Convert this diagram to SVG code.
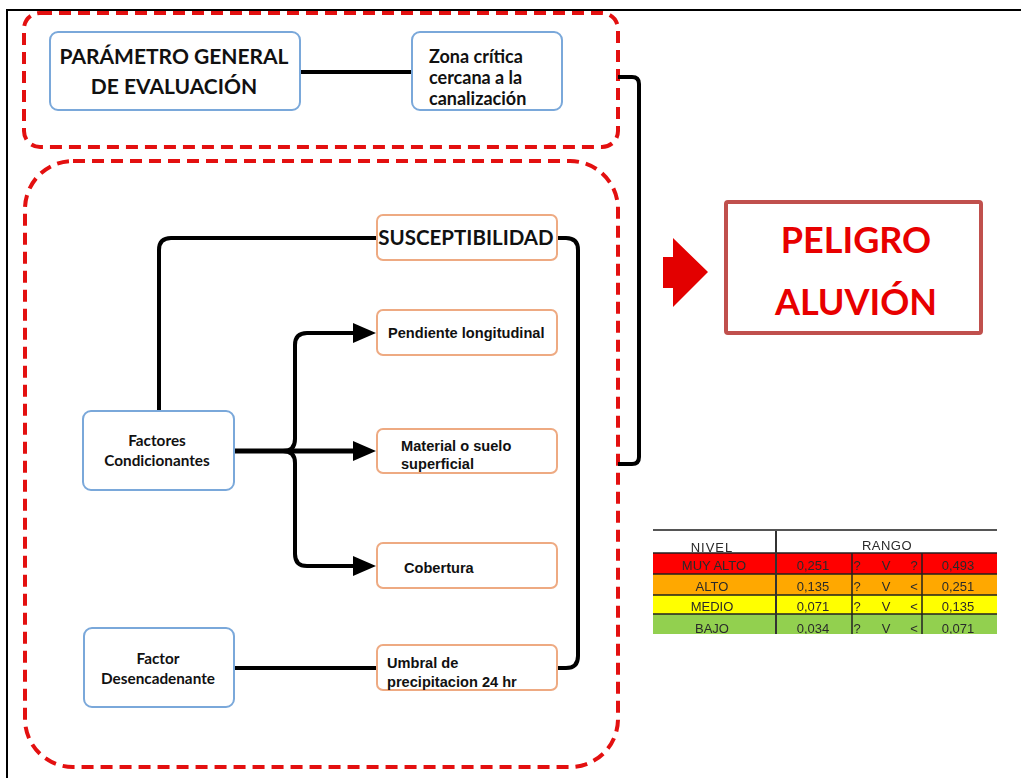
<svg xmlns="http://www.w3.org/2000/svg" width="1021" height="778" viewBox="0 0 1021 778">
<style>
.frame{fill:none;stroke:#000;stroke-width:2}
.dash{fill:none;stroke:#e31010;stroke-width:4;stroke-dasharray:12 7}
.blue{fill:#fff;stroke:#7aa8da;stroke-width:2}
.orng{fill:#fff;stroke:#eeaa82;stroke-width:2}
.conn{fill:none;stroke:#000;stroke-width:4;stroke-linejoin:round}
.thick{fill:none;stroke:#000;stroke-width:5}
.cal{font-family:Lato,"Liberation Sans",sans-serif;font-weight:bold;fill:#111}
.ari{font-family:"Liberation Sans",Arial,sans-serif;font-weight:bold;fill:#111;font-size:14.6px}
.tb{font-family:"Liberation Sans",Arial,sans-serif;font-size:13px;fill:#2a2a2a;text-anchor:middle}
.rl{stroke:#222;stroke-width:1.5}
</style>
<defs>
<filter id="soft" x="-5%" y="-5%" width="110%" height="110%"><feGaussianBlur stdDeviation="0.5"/></filter>
<clipPath id="tclip"><rect x="650" y="520" width="350" height="114"/></clipPath>
</defs>

<!-- outer frame -->
<path class="frame" d="M7 778 L7 10 L1021 10"/>

<!-- dashed group boxes -->
<rect class="dash" x="24" y="13" width="594" height="134" rx="16"/>
<rect class="dash" x="25" y="161" width="593" height="606" rx="48"/>

<g id="connectors">
<path class="conn" d="M300 72 L412 72"/>
<path class="conn" stroke-width="3" d="M618 77 L632 77 Q639 77 639 84 L639 457 Q639 464 632 464 L618 464"/>
<path class="conn" d="M159 411 L159 250 Q159 238 171 238 L377 238"/>
<path class="conn" d="M557 238 L566 238 Q578 238 578 250 L578 656 Q578 668 566 668 L557 668"/>
<path class="conn" d="M234 668 L377 668"/>
<path class="thick" d="M234 451 L356 451"/>
<path class="conn" d="M283 451 Q295 451 295 439 L295 345 Q295 333 307 333 L356 333"/>
<path class="conn" d="M283 451 Q295 451 295 463 L295 554 Q295 566 307 566 L356 566"/>
<polygon points="353,323 376,333 353,343" fill="#000"/>
<polygon points="353,441 376,451 353,461" fill="#000"/>
<polygon points="353,556 376,566 353,576" fill="#000"/>
<polygon points="663,257 673,257 673,238 708,272 673,307 673,288 663,288" fill="#e30000"/>
</g>

<g id="parametro">
<rect class="blue" x="50" y="32" width="250" height="78" rx="8"/>
<text class="cal" font-size="21" text-anchor="middle" x="174" y="64">PARÁMETRO GENERAL</text>
<text class="cal" font-size="21" text-anchor="middle" x="174" y="94">DE EVALUACIÓN</text>
</g>

<g id="zona">
<rect class="blue" x="412" y="32" width="150" height="78" rx="8"/>
<text class="cal" font-size="18" x="429" y="63">Zona crítica</text>
<text class="cal" font-size="18" x="429" y="84">cercana a la</text>
<text class="cal" font-size="18" x="429" y="105">canalización</text>
</g>

<g id="peligro">
<rect x="726" y="202" width="255" height="131" fill="#fff" stroke="#c0504d" stroke-width="4" rx="2"/>
<text class="cal" font-size="36" style="fill:#e80000" text-anchor="middle" x="856" y="253">PELIGRO</text>
<text class="cal" font-size="36" style="fill:#e80000" text-anchor="middle" x="856" y="315">ALUVIÓN</text>
</g>

<g id="susceptibilidad">
<rect class="orng" x="377" y="215" width="180" height="45" rx="6"/>
<text class="cal" font-size="20.5" text-anchor="middle" x="466" y="245">SUSCEPTIBILIDAD</text>
</g>

<g id="pendiente">
<rect class="orng" x="377" y="310" width="180" height="45" rx="6"/>
<text class="ari" x="388" y="338">Pendiente longitudinal</text>
</g>

<g id="material">
<rect class="orng" x="377" y="429" width="180" height="44" rx="6"/>
<text class="ari" x="401" y="451">Material o suelo</text>
<text class="ari" x="401" y="469">superficial</text>
</g>

<g id="cobertura">
<rect class="orng" x="377" y="543" width="180" height="45" rx="6"/>
<text class="ari" x="404" y="573">Cobertura</text>
</g>

<g id="umbral">
<rect class="orng" x="377" y="645" width="180" height="45" rx="6"/>
<text class="ari" x="387" y="668">Umbral de</text>
<text class="ari" x="387" y="687">precipitacion 24 hr</text>
</g>

<g id="factores">
<rect class="blue" x="83" y="411" width="151" height="79" rx="8"/>
<text class="cal" font-size="15.3" text-anchor="middle" x="157" y="446">Factores</text>
<text class="cal" font-size="15.3" text-anchor="middle" x="157" y="466">Condicionantes</text>
</g>

<g id="desencadenante">
<rect class="blue" x="84" y="628" width="150" height="79" rx="8"/>
<text class="cal" font-size="15.3" text-anchor="middle" x="158" y="664">Factor</text>
<text class="cal" font-size="15.3" text-anchor="middle" x="158" y="684">Desencadenante</text>
</g>

<g id="tabla" clip-path="url(#tclip)" filter="url(#soft)">
<rect x="653" y="553" width="344" height="21" fill="#ff0000"/>
<rect x="653" y="574" width="344" height="21" fill="#ffa800"/>
<rect x="653" y="595" width="344" height="19" fill="#ffff00"/>
<rect x="653" y="614" width="344" height="22" fill="#92d050"/>
<line x1="653" y1="530" x2="997" y2="530" stroke="#555" stroke-width="2"/>
<line class="rl" x1="653" y1="553" x2="997" y2="553"/>
<line class="rl" x1="653" y1="574" x2="997" y2="574"/>
<line class="rl" x1="653" y1="595" x2="997" y2="595"/>
<line class="rl" x1="653" y1="614" x2="997" y2="614"/>
<line x1="776" y1="531" x2="776" y2="636" stroke="#333" stroke-width="2"/>
<line class="rl" x1="852" y1="553" x2="852" y2="636"/>
<line class="rl" x1="922" y1="553" x2="922" y2="636"/>
<text class="tb" x="712" y="552" letter-spacing="1">NIVEL</text>
<text class="tb" x="887" y="550" letter-spacing="0.5">RANGO</text>
<text class="tb" x="714" y="570">MUY ALTO</text>
<text class="tb" x="813" y="570">0,251</text>
<text class="tb" x="857" y="570">?</text>
<text class="tb" x="886" y="570">V</text>
<text class="tb" x="914" y="570">?</text>
<text class="tb" x="958" y="570">0,493</text>
<text class="tb" x="712" y="591">ALTO</text>
<text class="tb" x="813" y="591">0,135</text>
<text class="tb" x="857" y="591">?</text>
<text class="tb" x="886" y="591">V</text>
<text class="tb" x="914" y="591">&lt;</text>
<text class="tb" x="958" y="591">0,251</text>
<text class="tb" x="712" y="611">MEDIO</text>
<text class="tb" x="813" y="611">0,071</text>
<text class="tb" x="857" y="611">?</text>
<text class="tb" x="886" y="611">V</text>
<text class="tb" x="914" y="611">&lt;</text>
<text class="tb" x="958" y="611">0,135</text>
<text class="tb" x="712" y="633">BAJO</text>
<text class="tb" x="813" y="633">0,034</text>
<text class="tb" x="857" y="633">?</text>
<text class="tb" x="886" y="633">V</text>
<text class="tb" x="914" y="633">&lt;</text>
<text class="tb" x="958" y="633">0,071</text>
</g>
</svg>
